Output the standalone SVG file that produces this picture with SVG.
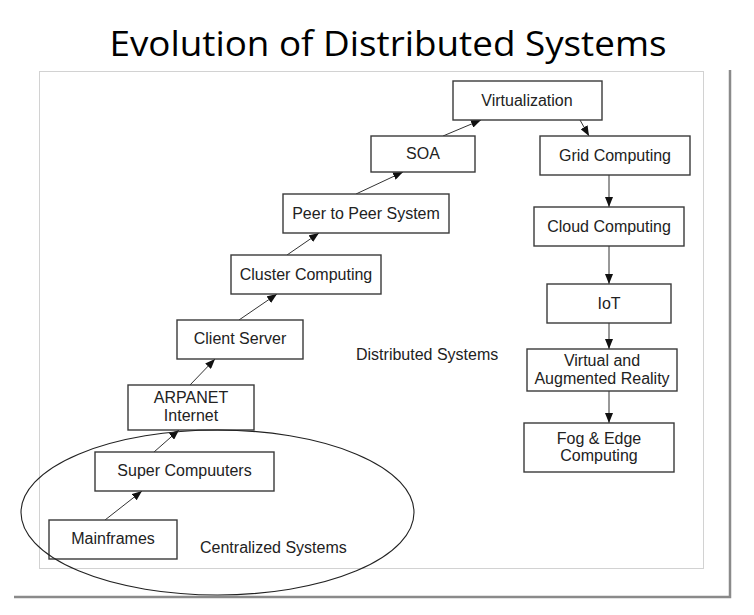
<svg xmlns="http://www.w3.org/2000/svg" width="754" height="615" viewBox="0 0 754 615">
<defs>
<style>
.box{fill:#fff;stroke:#3a3a3a;stroke-width:1.4}
.lbl{font-family:"Liberation Sans",Arial,sans-serif;font-size:16px;fill:#222;text-anchor:middle}
.free{font-family:"Liberation Sans",Arial,sans-serif;font-size:16px;fill:#222}
.edge{stroke:#333;stroke-width:1;fill:none;marker-end:url(#ah)}
</style>
<marker id="ah" markerWidth="10" markerHeight="8" refX="10" refY="4" orient="auto" markerUnits="userSpaceOnUse">
<path d="M0,0 L10,4 L0,8 Z" fill="#111"/>
</marker>
</defs>
<rect width="754" height="615" fill="#fff"/>
<text x="388" y="56" font-family="'Open Sans',sans-serif" font-size="35" fill="#000" text-anchor="middle" textLength="557" lengthAdjust="spacingAndGlyphs">Evolution of Distributed Systems</text>
<rect x="39.5" y="71.5" width="664" height="497" fill="none" stroke="#d2d2d2" stroke-width="1"/>
<path d="M730,70 V597 H14" fill="none" stroke="#8a8a8a" stroke-width="2.5"/>

<g id="connectors">
<line class="edge" x1="105" y1="520" x2="142" y2="491"/>
<line class="edge" x1="154" y1="452" x2="179" y2="430"/>
<line class="edge" x1="190" y1="385" x2="215" y2="359"/>
<line class="edge" x1="239" y1="320" x2="277" y2="294"/>
<line class="edge" x1="287" y1="255" x2="319" y2="233"/>
<line class="edge" x1="356" y1="194" x2="403" y2="172"/>
<line class="edge" x1="443" y1="136" x2="481" y2="120"/>
<line class="edge" x1="580" y1="120" x2="589" y2="136"/>
<line class="edge" x1="609" y1="175" x2="609" y2="207"/>
<line class="edge" x1="609" y1="246" x2="609" y2="284"/>
<line class="edge" x1="609" y1="323" x2="609" y2="349"/>
<line class="edge" x1="609" y1="391" x2="609" y2="423"/>
</g>

<g id="virtualization"><rect class="box" x="453" y="81" width="149" height="39"/><text class="lbl" x="527" y="105.5">Virtualization</text></g>
<g id="soa"><rect class="box" x="371" y="136" width="104" height="36"/><text class="lbl" x="423" y="158.5">SOA</text></g>
<g id="grid"><rect class="box" x="540" y="136" width="150" height="39"/><text class="lbl" x="615" y="160.5">Grid Computing</text></g>
<g id="cloud"><rect class="box" x="534" y="207" width="150" height="39"/><text class="lbl" x="609" y="231.5">Cloud Computing</text></g>
<g id="iot"><rect class="box" x="547" y="284" width="124" height="39"/><text class="lbl" x="609" y="308.5">IoT</text></g>
<g id="var"><rect class="box" x="527" y="349" width="150" height="42"/><text class="lbl" x="602" y="365.5">Virtual and</text><text class="lbl" x="602" y="383.5">Augmented Reality</text></g>
<g id="fog"><rect class="box" x="524" y="423" width="150" height="49"/><text class="lbl" x="599" y="443.5">Fog &amp; Edge</text><text class="lbl" x="599" y="460.5">Computing</text></g>
<g id="p2p"><rect class="box" x="283" y="194" width="166" height="39"/><text class="lbl" x="366" y="218.5">Peer to Peer System</text></g>
<g id="cluster"><rect class="box" x="231" y="255" width="150" height="39"/><text class="lbl" x="306" y="279.5">Cluster Computing</text></g>
<g id="client"><rect class="box" x="177" y="320" width="126" height="39"/><text class="lbl" x="240" y="343.5">Client Server</text></g>
<g id="arpanet"><rect class="box" x="128" y="385" width="126" height="45"/><text class="lbl" x="191" y="402.5">ARPANET</text><text class="lbl" x="191" y="420.5">Internet</text></g>
<g id="super"><rect class="box" x="95" y="452" width="179" height="39"/><text class="lbl" x="184.5" y="475.5">Super Compuuters</text></g>
<g id="mainframes"><rect class="box" x="49" y="520" width="128" height="39"/><text class="lbl" x="113" y="543.5">Mainframes</text></g>

<g id="centralized"><ellipse cx="217.5" cy="512.5" rx="196.5" ry="82.5" fill="none" stroke="#222" stroke-width="1.1"/><text class="free" x="200" y="553">Centralized Systems</text></g>
<g id="distributed"><text class="free" x="356" y="359.5">Distributed Systems</text></g>
</svg>
